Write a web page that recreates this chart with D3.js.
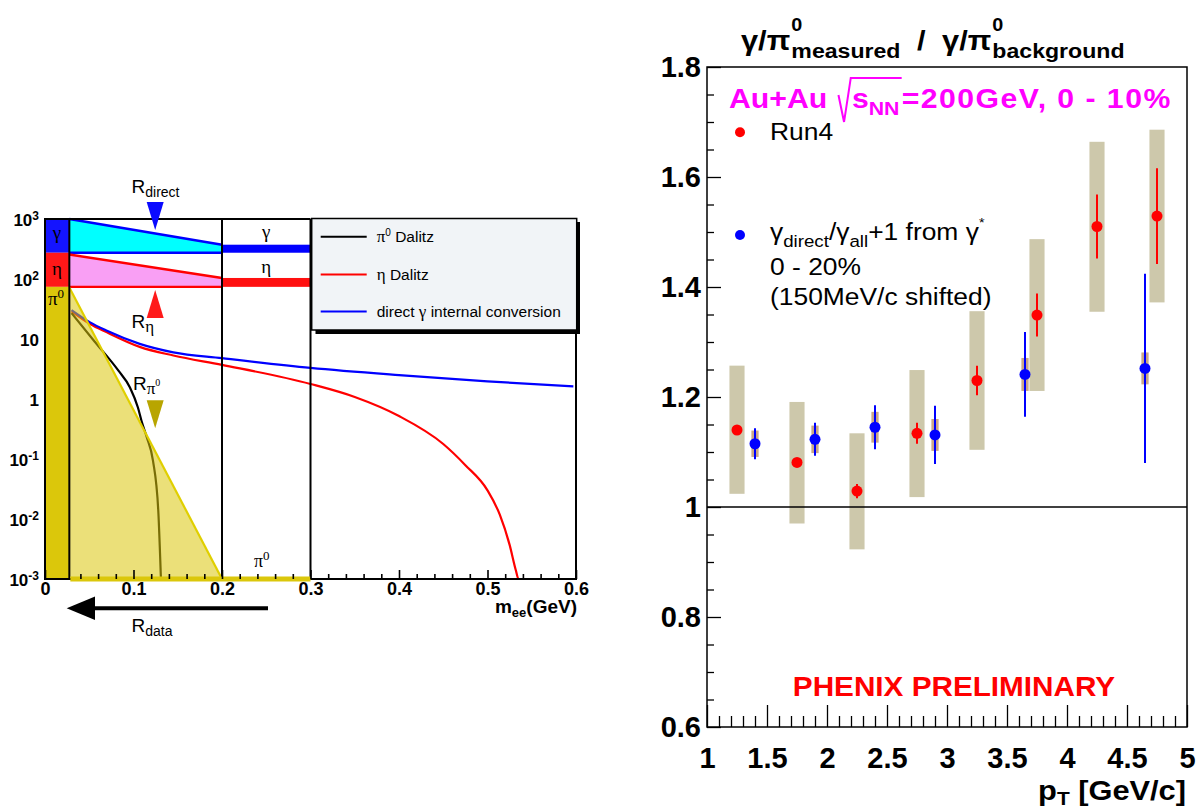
<!DOCTYPE html>
<html>
<head>
<meta charset="utf-8">
<script src="https://cdn.jsdelivr.net/npm/d3@7"></script>
<style>
  body { margin: 0; background: #fff; }
  svg { display: block; }
  text { font-family: "Liberation Sans", Arial, Helvetica, sans-serif; }
</style>
</head>
<body>
<svg id="chart" width="1196" height="810"></svg>
<script>
// ---------------- left panel: e+e- pair mass spectra ----------------
const massDirect  = [0.030, 0.051, 0.070, 0.107, 0.145, 0.200, 0.300, 0.400, 0.500, 0.597];
const yieldDirect = [30.4, 18.9, 13.7, 8.3, 6.0, 4.8, 3.3, 2.5, 1.97, 1.62];
const massEta  = [0.030, 0.051, 0.070, 0.107, 0.145, 0.200, 0.300, 0.350, 0.400, 0.450, 0.475, 0.500, 0.514, 0.525, 0.532, 0.535, 0.545];
const yieldEta = [29, 17.8, 12.9, 7.4, 5.3, 3.7, 1.78, 1.08, 0.52, 0.178, 0.079, 0.030, 0.0117, 0.0037, 0.0014, 0.001, 0.001];
const massPi0  = [0.030, 0.056, 0.083, 0.096, 0.105, 0.109, 0.115, 0.122, 0.128, 0.131];
const yieldPi0 = [27, 9.1, 2.96, 1.56, 0.72, 0.435, 0.23, 0.094, 0.0137, 0.001];

// source bands on the left strip and the normalisation wedges
const stripMass = [0, 0.0275];
const wedgeMass = [0.0275, 0.2];
const boxMass = [0.2, 0.3];
const bandEdges = [1000, 274, 74, 0.001];       // gamma / eta / pi0 band limits
const directTop = [1000, 373], directBase = 274;
const etaTop = [256, 104], etaBase = 74;
const pi0Top = [72, 0.001];

const leftXTicks = [0, 0.1, 0.2, 0.3, 0.4, 0.5, 0.6];
const leftXLabels = ["0", "0.1", "0.2", "0.3", "0.4", "0.5", "0.6"];
const leftYTicks = [1e3, 1e2, 10, 1, 0.1, 0.01, 0.001];
const leftYBase = ["10", "10", "10", "1", "10", "10", "10"];
const leftYExp  = ["3", "2", "", "", "-1", "-2", "-3"];
const legendNames = ["Dalitz", "Dalitz", "internal conversion"];
const legendColors = ["#000000", "#ff0000", "#0000ff"];

// ---------------- right panel: double ratio ----------------
const ptRun4 = [1.25, 1.75, 2.25, 2.75, 3.25, 3.75, 4.25, 4.75];
const ratioRun4 = [1.140, 1.081, 1.029, 1.134, 1.230, 1.349, 1.510, 1.529];
const statRun4 = [0.006, 0.006, 0.013, 0.019, 0.027, 0.039, 0.058, 0.087];
const sysRun4Low  = [1.024, 0.970, 0.923, 1.018, 1.104, 1.211, 1.355, 1.372];
const sysRun4High = [1.257, 1.191, 1.134, 1.249, 1.356, 1.487, 1.664, 1.686];
const ptVirtual = [1.40, 1.90, 2.40, 2.90, 3.65, 4.65];
const ratioVirtual = [1.115, 1.123, 1.145, 1.131, 1.241, 1.252];
const statVirtual = [0.028, 0.030, 0.040, 0.053, 0.077, 0.172];
const sysVirtual = [0.024, 0.025, 0.028, 0.029, 0.030, 0.029];

const rightYTicks = [0.6, 0.8, 1, 1.2, 1.4, 1.6, 1.8];
const rightYLabels = ["0.6", "0.8", "1", "1.2", "1.4", "1.6", "1.8"];
const rightXTicks = [1, 1.5, 2, 2.5, 3, 3.5, 4, 4.5, 5];
const rightXLabels = ["1", "1.5", "2", "2.5", "3", "3.5", "4", "4.5", "5"];

const svg = d3.select("#chart");
svg.append("rect").attr("width", 1196).attr("height", 810).attr("fill", "#fff");

const SERIF = "'Liberation Serif', 'DejaVu Serif', serif";
const YEL = "#dbc70b";

// ======================= LEFT PANEL =======================
const xL = d3.scaleLinear().domain([0, 0.6]).range([45, 576]);
const yL = d3.scaleLog().domain([1e-3, 1e3]).range([579, 219]);
const L = svg.append("g");
const poly = d3.line().x(d => xL(d[0])).y(d => yL(d[1]));

// direct-photon wedge
L.append("path")
  .attr("d", poly([[wedgeMass[0], directTop[0]], [wedgeMass[1], directTop[1]], [wedgeMass[1], directBase], [wedgeMass[0], directBase]]) + "Z")
  .attr("fill", "#00ffff");
// eta wedge
L.append("path")
  .attr("d", poly([[wedgeMass[0], etaTop[0]], [wedgeMass[1], etaTop[1]], [wedgeMass[1], etaBase], [wedgeMass[0], etaBase]]) + "Z")
  .attr("fill", "#f99ff4");
// wedge edges
const edge = (pts, col) => L.append("path").attr("d", poly(pts)).attr("fill", "none").attr("stroke", col).attr("stroke-width", 2.4);
edge([[wedgeMass[0], directTop[0]], [wedgeMass[1], directTop[1]]], "#0000ff");
edge([[wedgeMass[0], directBase], [wedgeMass[1], directBase]], "#0000ff");
edge([[wedgeMass[0], etaTop[0]], [wedgeMass[1], etaTop[1]]], "#ff0000");
edge([[wedgeMass[0], etaBase], [wedgeMass[1], etaBase]], "#ff0000");

// reference bars in the 0.2-0.3 box
L.append("rect").attr("x", xL(boxMass[0])).attr("width", xL(boxMass[1]) - xL(boxMass[0]))
  .attr("y", yL(directTop[1])).attr("height", yL(directBase) - yL(directTop[1])).attr("fill", "#0000ff");
L.append("rect").attr("x", xL(boxMass[0])).attr("width", xL(boxMass[1]) - xL(boxMass[0]))
  .attr("y", yL(etaTop[1])).attr("height", yL(etaBase) - yL(etaTop[1])).attr("fill", "#ff1010");

// mass spectra
const curve = d3.line().x(d => xL(d[0])).y(d => yL(d[1])).curve(d3.curveMonotoneX);
const drawCurve = (m, v, col) => L.append("path").attr("d", curve(m.map((x, i) => [x, v[i]])))
  .attr("fill", "none").attr("stroke", col).attr("stroke-width", 2.2);
drawCurve(massEta, yieldEta, "#ff0000");
drawCurve(massDirect, yieldDirect, "#0000ff");
drawCurve(massPi0, yieldPi0, "#000000");

// pi0 wedge (translucent, over the spectra)
L.append("path")
  .attr("d", poly([[wedgeMass[0], pi0Top[0]], [wedgeMass[1], pi0Top[1]], [wedgeMass[0], pi0Top[1]]]) + "Z")
  .attr("fill", YEL).attr("fill-opacity", 0.55);
L.append("path").attr("d", poly([[wedgeMass[0], pi0Top[0]], [wedgeMass[1], pi0Top[1]]]))
  .attr("stroke", "#e0cf00").attr("stroke-width", 2.2).attr("fill", "none");

// source bands on the strip
const bandColors = ["#1414ff", "#ff1818", YEL];
bandColors.forEach((c, i) => {
  L.append("rect").attr("x", xL(stripMass[0])).attr("width", xL(stripMass[1]) - xL(stripMass[0]))
    .attr("y", yL(bandEdges[i])).attr("height", yL(bandEdges[i + 1]) - yL(bandEdges[i])).attr("fill", c);
});

// frame lines
const fr = L.append("g").attr("stroke", "#000").attr("stroke-width", 2);
[0, stripMass[1], 0.2, 0.3, 0.6].forEach(m => {
  fr.append("line").attr("x1", xL(m)).attr("x2", xL(m)).attr("y1", yL(1000)).attr("y2", yL(1e-3));
});
fr.append("line").attr("x1", xL(0) - 1).attr("x2", xL(0.3)).attr("y1", yL(1000)).attr("y2", yL(1000));
fr.append("line").attr("x1", xL(0) - 1).attr("x2", xL(0.6) + 1).attr("y1", yL(1e-3)).attr("y2", yL(1e-3));
// pi0 reference bar along the axis
L.append("line").attr("x1", xL(stripMass[1]) + 1).attr("x2", xL(0.3)).attr("y1", yL(1e-3)).attr("y2", yL(1e-3))
  .attr("stroke", YEL).attr("stroke-width", 5);

// x axis
const minorL = d3.range(2, 30).map(i => i * 0.02).filter(v => Math.abs(v * 10 - Math.round(v * 10)) > 1e-6);
const gxmL = L.append("g").attr("transform", `translate(0,${yL(1e-3)})`)
  .call(d3.axisBottom(xL).tickValues(minorL).tickSize(-5).tickFormat(""));
const gxL = L.append("g").attr("transform", `translate(0,${yL(1e-3)})`)
  .call(d3.axisBottom(xL).tickValues(leftXTicks).tickSize(-9).tickPadding(3).tickFormat((d, i) => leftXLabels[i]));
[gxmL, gxL].forEach(g => { g.select(".domain").remove(); g.selectAll("line").attr("stroke-width", 1.6); });
gxL.selectAll("text").style("font-size", "18px").style("font-weight", "bold")
  .style("font-family", "'Liberation Sans', Arial, sans-serif").attr("fill", "#000");

// y axis (labels only)
const gyL = L.append("g").attr("transform", `translate(${xL(0)},0)`)
  .call(d3.axisLeft(yL).tickValues(leftYTicks).tickSize(0).tickPadding(6).tickFormat(""));
gyL.select(".domain").remove();
gyL.selectAll("text").each(function (d, i) {
  const t = d3.select(this).style("font-weight", "bold").style("font-size", "17px")
    .style("font-family", "'Liberation Sans', Arial, sans-serif").attr("fill", "#000").attr("dy", "0.36em");
  t.append("tspan").text(leftYBase[i]);
  if (leftYExp[i]) t.append("tspan").attr("dy", "-0.5em").style("font-size", "12px").text(leftYExp[i]);
});

// axis title
const mt = L.append("text").attr("x", 577).attr("y", 613).attr("text-anchor", "end")
  .style("font-weight", "bold").style("font-size", "19px");
mt.append("tspan").text("m");
mt.append("tspan").attr("dy", 4).style("font-size", "13px").text("ee");
mt.append("tspan").attr("dy", -4).text("(GeV)");

// band labels
const serifText = (x, y, s, size, anchor) => L.append("text").attr("x", x).attr("y", y)
  .attr("text-anchor", anchor || "middle").style("font-family", SERIF).style("font-size", size + "px").text(s);
serifText(57, 239, "γ", 19);
serifText(57, 275, "η", 19);
const p0 = serifText(48, 305, "π", 19, "start");
p0.append("tspan").attr("dy", -7).style("font-size", "13px").text("0");
serifText(xL(0.25), 238, "γ", 19);
serifText(xL(0.25), 273, "η", 19);
const p1 = serifText(254, 567, "π", 18, "start");
p1.append("tspan").attr("dy", -7).style("font-size", "13px").text("0");

// legend
L.append("rect").attr("x", 315.5).attr("y", 222).attr("width", 264.5).attr("height", 112).attr("fill", "#000");
L.append("rect").attr("x", 311.7).attr("y", 218.5).attr("width", 265).attr("height", 111.5)
  .attr("fill", "#f1f4f7").attr("stroke", "#000").attr("stroke-width", 1.5);
const legY = [236.7, 274.5, 311.5];
legendNames.forEach((n, i) => {
  L.append("line").attr("x1", 320.7).attr("x2", 366.7).attr("y1", legY[i]).attr("y2", legY[i])
    .attr("stroke", legendColors[i]).attr("stroke-width", 2);
  const t = L.append("text").attr("x", 376.7).attr("y", legY[i] + 5.5).style("font-size", "15.5px");
  if (i === 0) {
    t.append("tspan").style("font-family", SERIF).style("font-size", "17px").text("π");
    t.append("tspan").attr("dy", -6).style("font-size", "10px").text("0");
    t.append("tspan").attr("dy", 6).text(" " + n);
  } else if (i === 1) {
    t.append("tspan").style("font-family", SERIF).style("font-size", "17px").text("η");
    t.append("tspan").text(" " + n);
  } else {
    t.append("tspan").text("direct");
    t.append("tspan").style("font-family", SERIF).style("font-size", "17px").text(" γ");
    t.append("tspan").text(" " + n);
  }
});

// normalisation markers
const mMark = 0.1245;
const tri = (tipVal, dir, col) => {
  const x = xL(mMark), y = yL(tipVal), h = 28 * dir;
  L.append("path").attr("d", `M${x},${y}L${x - 8.5},${y - h}L${x + 8.5},${y - h}Z`).attr("fill", col);
};
tri(656, 1, "#0a0aff");
tri(65.6, -1, "#ff1a1a");
tri(0.325, 1, "#b8a500");

const rLabel = (x, y, sub, subSerif, sup) => {
  const t = L.append("text").attr("x", x).attr("y", y).style("font-size", "19px");
  t.append("tspan").text("R");
  const s = t.append("tspan").attr("dy", 4).style("font-size", subSerif ? "17px" : "14px").text(sub);
  if (subSerif) s.style("font-family", SERIF);
  if (sup) t.append("tspan").attr("dy", -8).style("font-size", "10px").style("font-family", SERIF).text(sup);
};
rLabel(131.5, 193, "direct", false);
rLabel(131.5, 328, "η", true);
rLabel(133, 390, "π", true, "0");
rLabel(131.5, 632, "data", false);

// R_data arrow
L.append("line").attr("x1", 268).attr("x2", 92).attr("y1", 608.3).attr("y2", 608.3)
  .attr("stroke", "#000").attr("stroke-width", 4);
L.append("path").attr("d", "M66.7,608.3L95,596.5L95,620Z").attr("fill", "#000");

// ======================= RIGHT PANEL =======================
const SX = 1.1;
const xR = d3.scaleLinear().domain([1, 5]).range([707, 1187]);
const yR = d3.scaleLinear().domain([0.6, 1.8]).range([727, 67]);
const R = svg.append("g");

// systematic boxes
ptRun4.forEach((p, i) => {
  R.append("rect").attr("x", xR(p - 0.063)).attr("width", xR(p + 0.063) - xR(p - 0.063))
    .attr("y", yR(sysRun4High[i])).attr("height", yR(sysRun4Low[i]) - yR(sysRun4High[i])).attr("fill", "#cdc8ab");
});
ptVirtual.forEach((p, i) => {
  R.append("rect").attr("x", xR(p - 0.03)).attr("width", xR(p + 0.03) - xR(p - 0.03))
    .attr("y", yR(ratioVirtual[i] + sysVirtual[i])).attr("height", yR(ratioVirtual[i] - sysVirtual[i]) - yR(ratioVirtual[i] + sysVirtual[i]))
    .attr("fill", "#c9a688");
});

// unity line
R.append("line").attr("x1", xR(1)).attr("x2", xR(5)).attr("y1", yR(1)).attr("y2", yR(1))
  .attr("stroke", "#000").attr("stroke-width", 1.3);

// statistical errors and points
ptRun4.forEach((p, i) => {
  R.append("line").attr("x1", xR(p)).attr("x2", xR(p)).attr("y1", yR(ratioRun4[i] + statRun4[i])).attr("y2", yR(ratioRun4[i] - statRun4[i]))
    .attr("stroke", "#ff0000").attr("stroke-width", 2);
});
ptVirtual.forEach((p, i) => {
  R.append("line").attr("x1", xR(p)).attr("x2", xR(p)).attr("y1", yR(ratioVirtual[i] + statVirtual[i])).attr("y2", yR(ratioVirtual[i] - statVirtual[i]))
    .attr("stroke", "#0000ff").attr("stroke-width", 2);
});
R.selectAll("circle.run4").data(ptRun4).join("circle").attr("class", "run4")
  .attr("cx", d => xR(d)).attr("cy", (d, i) => yR(ratioRun4[i])).attr("r", 5.5).attr("fill", "#ff0000");
R.selectAll("circle.virt").data(ptVirtual).join("circle").attr("class", "virt")
  .attr("cx", d => xR(d)).attr("cy", (d, i) => yR(ratioVirtual[i])).attr("r", 5.5).attr("fill", "#0000ff");

// frame
R.append("rect").attr("x", xR(1)).attr("y", yR(1.8)).attr("width", xR(5) - xR(1)).attr("height", yR(0.6) - yR(1.8))
  .attr("fill", "none").attr("stroke", "#000").attr("stroke-width", 1.5);

// axes
const minorY = d3.range(0, 25).map(i => 0.6 + i * 0.05).filter((v, i) => i % 4 !== 0);
const minorX = d3.range(0, 41).map(i => 1 + i * 0.1).filter((v, i) => i % 5 !== 0);
const gyRm = R.append("g").attr("transform", `translate(${xR(1)},0)`).call(d3.axisLeft(yR).tickValues(minorY).tickSize(-7).tickFormat(""));
const gyR = R.append("g").attr("transform", `translate(${xR(1)},0)`)
  .call(d3.axisLeft(yR).tickValues(rightYTicks).tickSize(-14).tickPadding(6).tickFormat((d, i) => rightYLabels[i]));
const gxRm = R.append("g").attr("transform", `translate(0,${yR(0.6)})`).call(d3.axisBottom(xR).tickValues(minorX).tickSize(-11).tickFormat(""));
const gxR = R.append("g").attr("transform", `translate(0,${yR(0.6)})`)
  .call(d3.axisBottom(xR).tickValues(rightXTicks).tickSize(-22).tickPadding(20).tickFormat((d, i) => rightXLabels[i]));
[gyRm, gyR, gxRm, gxR].forEach(g => { g.select(".domain").remove(); g.selectAll("line").attr("stroke-width", 1.3); });
[gyR, gxR].forEach(g => g.selectAll("text").style("font-size", "29px").style("font-weight", "bold")
  .style("font-family", "'Liberation Sans', Arial, sans-serif").attr("fill", "#000"));

// helper: horizontally stretched text group
const tg = (x, y, sx) => R.append("g").attr("transform", `translate(${x},${y}) scale(${sx || SX},1)`);

// x title
const xt = tg(1186, 800).append("text").attr("text-anchor", "end").style("font-weight", "bold").style("font-size", "28px");
xt.append("tspan").text("p");
xt.append("tspan").attr("dy", 5).style("font-size", "19px").text("T");
xt.append("tspan").attr("dy", -5).text(" [GeV/c]");

// title  γ/π0_measured / γ/π0_background
const title = tg(741, 0);
let cx = 0;
const piece = (g, s, x, y, size) => {
  const t = g.append("text").attr("x", x).attr("y", y).style("font-weight", "bold").style("font-size", size + "px").text(s);
  return t.node().getComputedTextLength();
};
["measured", "background"].forEach((sub, k) => {
  const w = piece(title, "γ/π", cx, 50, 28);
  const ws = piece(title, "0", cx + w + 1, 31, 18);
  const wb = piece(title, sub, cx + w + 1, 58, 21);
  cx += w + 1 + Math.max(ws, wb);
  if (k === 0) {
    cx += 15;
    cx += piece(title, "/", cx, 50, 28) + 15;
  }
});

// collision system label with radical
const sys = tg(729, 108, 1.12);
const mag = "#ff00ff";
const magPiece = (s, x, y, size, ls) => {
  const t = sys.append("text").attr("x", x).attr("y", y).attr("fill", mag).style("font-weight", "bold")
    .style("font-size", size + "px").style("letter-spacing", (ls || 0) + "px").text(s);
  return t.node().getComputedTextLength();
};
let mx = magPiece("Au+Au", 0, 0, 27);
const r0 = mx + 10;
mx = r0 + 12;
mx += magPiece("s", mx, 0, 27);
mx += magPiece("NN", mx, 7, 19);
sys.append("path").attr("d", `M${r0},-13L${r0 + 5},14L${r0 + 11},-30L${mx + 2},-30`)
  .attr("fill", "none").attr("stroke", mag).attr("stroke-width", 1.8);
mx += 2;
magPiece("=200GeV, 0 - 10%", mx, 0, 27, 1.3);

// legend
R.append("circle").attr("cx", 740).attr("cy", 132.3).attr("r", 5).attr("fill", "#ff0000");
R.append("circle").attr("cx", 740).attr("cy", 235).attr("r", 5).attr("fill", "#0000ff");
tg(770, 140).append("text").style("font-size", "24px").text("Run4");
const lg = tg(770, 240).append("text").style("font-size", "24px");
lg.append("tspan").text("γ");
lg.append("tspan").attr("dy", 7).style("font-size", "17px").text("direct");
lg.append("tspan").attr("dy", -7).text("/γ");
lg.append("tspan").attr("dy", 7).style("font-size", "17px").text("all");
lg.append("tspan").attr("dy", -7).text("+1 from γ");
lg.append("tspan").attr("dy", -13).style("font-size", "13px").text("*");
tg(770, 275).append("text").style("font-size", "24px").text("0 - 20%");
tg(770, 305).append("text").style("font-size", "24px").text("(150MeV/c shifted)");

// preliminary tag
tg(954, 696).append("text").attr("text-anchor", "middle").attr("fill", "#ff0000")
  .style("font-weight", "bold").style("font-size", "27px").text("PHENIX PRELIMINARY");
</script>
</body>
</html>
